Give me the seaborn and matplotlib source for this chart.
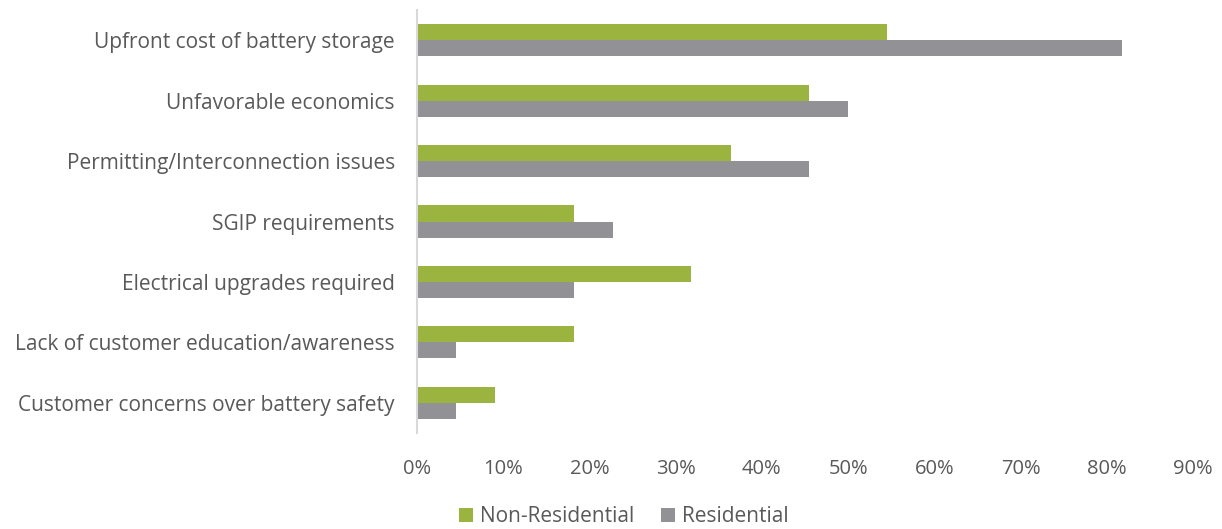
import matplotlib
matplotlib.use("Agg")
import matplotlib.pyplot as plt
from matplotlib.patches import Patch
from matplotlib.ticker import PercentFormatter
import seaborn as sns
import pandas as pd

categories = [
    "Upfront cost of battery storage",
    "Unfavorable economics",
    "Permitting/Interconnection issues",
    "SGIP requirements",
    "Electrical upgrades required",
    "Lack of customer education/awareness",
    "Customer concerns over battery safety",
]
non_residential = [54.5, 45.5, 36.4, 18.2, 31.8, 18.2, 9.1]
residential = [81.8, 50.0, 45.5, 22.7, 18.2, 4.5, 4.5]
series_names = ["Non-Residential", "Residential"]
x_ticks = [0, 10, 20, 30, 40, 50, 60, 70, 80, 90]

colors = {"Non-Residential": "#9BB33F", "Residential": "#929296"}
text_color = "#595959"

df = pd.DataFrame({
    "Barrier": categories * 2,
    "Share": non_residential + residential,
    "Segment": [series_names[0]] * len(categories) + [series_names[1]] * len(categories),
})

sns.set_theme(style="white")
plt.rcParams["font.family"] = ["Open Sans", "DejaVu Sans"]

fig = plt.figure(figsize=(12.22, 5.29), dpi=100)
ax = fig.add_axes([417 / 1222, 1 - 433 / 529, (1193 - 417) / 1222, 423 / 529])

sns.barplot(
    data=df, x="Share", y="Barrier", hue="Segment",
    order=categories, hue_order=series_names,
    palette=colors, orient="h", width=0.53, saturation=1,
    linewidth=0, legend=False, ax=ax,
)

ax.set_xlim(0, 90)
ax.set_xticks(x_ticks)
ax.xaxis.set_major_formatter(PercentFormatter(decimals=0))
ax.set_xlabel("")
ax.set_ylabel("")
ax.tick_params(axis="x", length=0, pad=19, labelsize=14.5, labelcolor=text_color)
ax.tick_params(axis="y", length=0, pad=16, labelsize=15, labelcolor=text_color)

for side in ["top", "right", "bottom"]:
    ax.spines[side].set_visible(False)
ax.spines["left"].set_color("#D9D9D9")
ax.spines["left"].set_linewidth(1.5)

handles = [Patch(facecolor=colors[n], edgecolor="none", label=n) for n in series_names]
fig.legend(
    handles=handles, loc="center", bbox_to_anchor=(624 / 1222, 1 - 517 / 529),
    ncol=2, frameon=False, fontsize=15, labelcolor=text_color,
    handlelength=0.65, handleheight=0.65, handletextpad=0.35, columnspacing=1.3,
)

fig.savefig("out.png", dpi=100)
